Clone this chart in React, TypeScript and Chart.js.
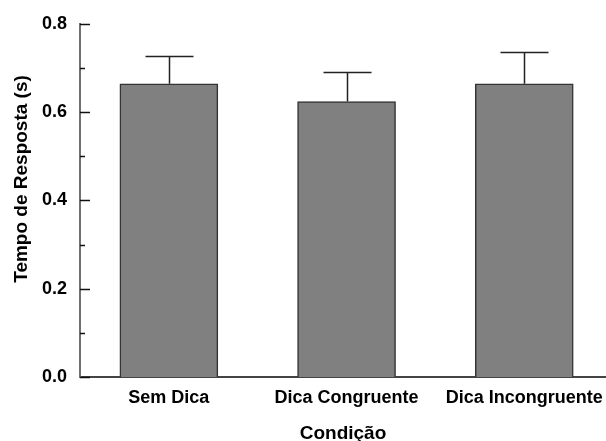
import React, { useEffect, useRef } from "react";
import { Chart, registerables } from "chart.js";
Chart.register(...registerables);

const categories = ["Sem Dica", "Dica Congruente", "Dica Incongruente"];
const means = [0.664, 0.624, 0.664];
const errors = [0.064, 0.066, 0.071];
const yTicks = [0, 0.2, 0.4, 0.6, 0.8];
const yMinorTicks = [0.1, 0.3, 0.5, 0.7];
const yTitle = "Tempo de Resposta (s)";
const xTitle = "Condição";

const FONT = "'Liberation Sans', Arial, Helvetica, sans-serif";

export default function App() {
  const ref = useRef<HTMLCanvasElement>(null);
  useEffect(() => {
    const canvas = ref.current!;
    const errorBars = {
      id: "errorBars",
      afterDatasetsDraw(chart: any) {
        const { ctx } = chart;
        const xs = chart.scales.x;
        const ys = chart.scales.y;
        ctx.save();
        ctx.strokeStyle = "#222";
        ctx.lineWidth = 1.5;
        means.forEach((m, i) => {
          const x = Math.round(xs.getPixelForValue(i)) + 0.5;
          const y0 = ys.getPixelForValue(m);
          const y1 = Math.round(ys.getPixelForValue(m + errors[i])) + 0.5;
          ctx.beginPath();
          ctx.moveTo(x, y0);
          ctx.lineTo(x, y1);
          ctx.moveTo(x - 24, y1);
          ctx.lineTo(x + 24, y1);
          ctx.stroke();
        });
        ctx.restore();
      },
    };
    const extras = {
      id: "extras",
      afterDraw(chart: any) {
        const { ctx, chartArea } = chart;
        const ys = chart.scales.y;
        const left = chartArea.left;
        ctx.save();
        ctx.strokeStyle = "#111";
        ctx.lineWidth = 1.5;
        const drawTick = (v: number, len: number) => {
          const y = Math.round(ys.getPixelForValue(v)) + 0.5;
          ctx.beginPath();
          ctx.moveTo(left, y);
          ctx.lineTo(left + len, y);
          ctx.stroke();
        };
        yTicks.forEach((v) => drawTick(v, 10));
        yMinorTicks.forEach((v) => drawTick(v, 5));
        ctx.restore();

        ctx.save();
        ctx.translate(22, 179);
        ctx.rotate(-Math.PI / 2);
        ctx.textAlign = "center";
        ctx.textBaseline = "middle";
        ctx.fillStyle = "#000";
        ctx.font = `bold 19px ${FONT}`;
        ctx.fillText(yTitle, 0, 0);
        ctx.restore();
      },
    };
    const chart = new Chart(canvas, {
      type: "bar",
      data: {
        datasets: [
          {
            data: means.map((m, i) => ({ x: i, y: m })),
            backgroundColor: "#808080",
            borderColor: "#333333",
            borderWidth: 1.5,
            barThickness: 98,
          },
        ],
      },
      options: {
        animation: false,
        responsive: false,
        layout: { padding: { top: 23, right: 0, left: 0, bottom: 0 } },
        plugins: { legend: { display: false }, tooltip: { enabled: false } },
        scales: {
          x: {
            type: "linear",
            min: -0.5,
            max: 2.46,
            offset: false,
            grid: { display: false, drawTicks: false },
            border: { display: true, color: "#444", width: 2 },
            afterBuildTicks: (s: any) => {
              s.ticks = categories.map((_, i) => ({ value: i }));
            },
            afterFit: (s: any) => {
              s.height = 64;
              s.paddingLeft = 0;
              s.paddingRight = 0;
            },
            ticks: {
              color: "#000",
              padding: 10,
              maxRotation: 0,
              autoSkip: false,
              font: { family: FONT, size: 18, weight: "bold" },
              callback: (v: any) => categories[Math.round(Number(v))] ?? "",
            },
            title: {
              display: true,
              text: xTitle,
              color: "#000",
              font: { family: FONT, size: 19, weight: "bold" },
              padding: { top: 0, bottom: -4 },
            },
          },
          y: {
            min: 0,
            max: 0.8,
            grid: { display: false, drawTicks: false },
            border: { display: true, color: "#707070", width: 2 },
            afterBuildTicks: (s: any) => {
              s.ticks = yTicks.map((v) => ({ value: v }));
            },
            afterFit: (s: any) => {
              s.width = 80;
            },
            ticks: {
              color: "#000",
              padding: 13,
              font: { family: FONT, size: 18, weight: "bold" },
              callback: (v: any) => Number(v).toFixed(1),
            },
          },
        },
      },
      plugins: [errorBars, extras],
    } as any);
    return () => chart.destroy();
  }, []);
  return (
    <div style={{ position: "absolute", left: 0, top: 0, width: 606, height: 441, background: "#fff" }}>
      <canvas ref={ref} width={606} height={441} />
    </div>
  );
}
